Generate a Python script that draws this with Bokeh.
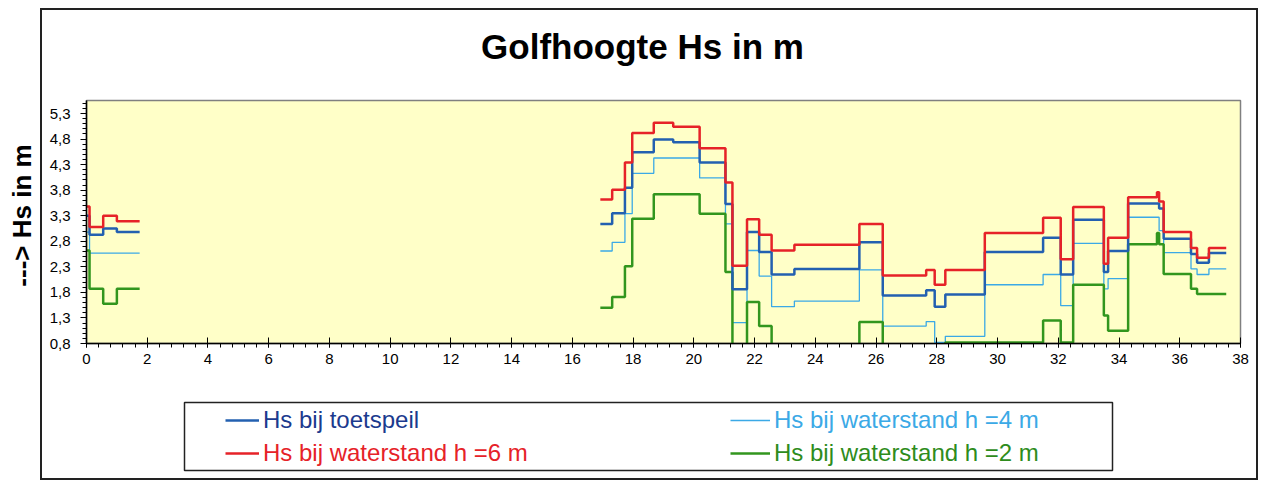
import math
from bokeh.plotting import figure
from bokeh.layouts import row, column
from bokeh.models import FixedTicker, Label, Legend, LegendItem, BoxAnnotation, Range1d
from bokeh.embed import file_html
from bokeh.resources import INLINE

# ---------------- data ----------------
x_ticks = list(range(0, 40, 2))
y_ticks = [0.8, 1.3, 1.8, 2.3, 2.8, 3.3, 3.8, 4.3, 4.8, 5.3]
y_tick_labels = ["0,8", "1,3", "1,8", "2,3", "2,8", "3,3", "3,8", "4,3", "4,8", "5,3"]

series_names = ["Hs bij toetspeil", "Hs bij waterstand h =6 m",
                "Hs bij waterstand h =4 m", "Hs bij waterstand h =2 m"]

# first stretch (step boundaries and level per step)
seg1_x = [0.0, 0.1, 0.55, 1.0, 1.75]
seg1_toetspeil = [3.30, 2.93, 3.05, 2.98]
seg1_h6 = [3.48, 3.08, 3.30, 3.19]
seg1_h4 = [2.98, 2.57, 2.57, 2.57]
seg1_h2 = [2.62, 1.87, 1.58, 1.87]

# second stretch
seg2_x = [16.92, 17.31, 17.73, 17.97, 18.68, 19.32, 20.19, 21.04, 21.27, 21.75,
          22.15, 22.56, 23.31, 25.45, 26.22, 27.65, 27.93, 28.28, 29.58, 31.50,
          32.08, 32.49, 33.50, 33.64, 34.30, 35.25, 35.32, 35.47, 36.37, 36.57,
          36.96, 37.53]
seg2_toetspeil = [3.14, 3.35, 3.85, 4.54, 4.79, 4.74, 4.34, 3.53, 1.86, 2.98,
                  2.59, 2.15, 2.26, 2.78, 1.74, 1.84, 1.52, 1.76, 2.59, 2.87,
                  2.15, 3.22, 2.20, 2.61, 3.54, 3.54, 3.44, 2.85, 2.55, 2.38, 2.57]
seg2_h6 = [3.62, 3.81, 4.34, 4.92, 5.12, 5.04, 4.62, 3.95, 2.32, 3.23,
           2.93, 2.62, 2.73, 3.14, 2.13, 2.24, 1.95, 2.24, 2.96, 3.26,
           2.45, 3.47, 2.36, 2.87, 3.66, 3.76, 3.58, 2.98, 2.67, 2.48, 2.67]
seg2_h4 = [2.61, 2.78, 3.34, 4.13, 4.43, 4.43, 4.04, 3.14, 1.21, 2.62,
           2.12, 1.52, 1.63, 2.24, 1.14, 1.23, 0.82, 0.94, 1.95, 2.15,
           1.54, 2.76, 1.87, 2.07, 3.27, 3.27, 3.01, 2.58, 2.26, 2.15, 2.26]
seg2_h2 = [1.50, 1.71, 2.31, 3.24, 3.72, 3.72, 3.34, 2.20, 0.50, 1.61,
           1.14, 0.50, 0.50, 1.22, 0.50, 0.50, 0.50, 0.82, 0.82, 1.25,
           0.82, 1.95, 1.35, 1.05, 2.74, 2.96, 2.74, 2.16, 1.87, 1.77, 1.77]


def step_path(breaks, levels):
    xs, ys = [], []
    for i, v in enumerate(levels):
        xs += [breaks[i], breaks[i + 1]]
        ys += [v, v]
    return xs, ys


def build(l1, l2):
    x1, y1 = step_path(seg1_x, l1)
    x2, y2 = step_path(seg2_x, l2)
    return x1 + [math.nan] + x2, y1 + [math.nan] + y2


FONT = "Liberation Sans"
C_T, C_6, C_4, C_2 = "#2360B0", "#E62228", "#3BA9E6", "#32961E"
T_T, T_6, T_4, T_2 = "#1B3A8E", "#E62228", "#3BA9E6", "#2E8C1C"
W_T, W_6, W_4, W_2 = 2.5, 2.5, 1.3, 2.5


def blank(width, height, xr=(0, 1), yr=(0, 1)):
    f = figure(width=width, height=height, output_backend="svg", toolbar_location=None,
               x_axis_location=None, y_axis_location=None,
               x_range=Range1d(*xr), y_range=Range1d(*yr), min_border=0)
    f.outline_line_color = None
    f.background_fill_color = "white"
    f.border_fill_color = "white"
    f.grid.visible = False
    return f


# ---------------- y-axis title (outside the chart frame) ----------------
p_lab = blank(40, 481)
p_lab.add_layout(Label(x=21, y=266, x_units="screen", y_units="screen", angle=math.pi / 2,
                       text="---> Hs in m", text_font=FONT, text_font_size="26px",
                       text_font_style="bold", text_align="center", text_baseline="middle",
                       text_color="black"))

# ---------------- title ----------------
p_title = blank(1214, 80)
p_title.add_layout(Label(x=556, y=44, x_units="screen", y_units="screen",
                         text="Golfhoogte Hs in m", text_font=FONT, text_font_size="35px",
                         text_font_style="bold", text_align="center",
                         text_baseline="alphabetic", text_color="black"))

# ---------------- main plot ----------------
p = figure(width=1214, height=302, output_backend="svg", toolbar_location=None,
           x_range=Range1d(0, 38), y_range=Range1d(0.8, 5.555),
           min_border_left=44, min_border_right=16, min_border_top=10, min_border_bottom=49)
p.background_fill_color = "#FFFFC8"
p.border_fill_color = "white"
p.outline_line_color = "#808080"
p.outline_line_width = 1.5
p.xgrid.visible = False
p.ygrid.visible = False

xa, ya = build(seg1_h4, seg2_h4)
r4 = p.line(xa, ya, line_color=C_4, line_width=W_4)
xa, ya = build(seg1_h2, seg2_h2)
r2 = p.line(xa, ya, line_color=C_2, line_width=W_2)
xa, ya = build(seg1_toetspeil, seg2_toetspeil)
rt = p.line(xa, ya, line_color=C_T, line_width=W_T)
xa, ya = build(seg1_h6, seg2_h6)
r6 = p.line(xa, ya, line_color=C_6, line_width=W_6)

p.xaxis.ticker = FixedTicker(ticks=x_ticks, minor_ticks=[k * 0.4 for k in range(0, 96)])
p.yaxis.ticker = FixedTicker(ticks=y_ticks, minor_ticks=[0.8 + k * 0.1 for k in range(0, 48)])
p.yaxis.major_label_overrides = dict(zip(y_ticks, y_tick_labels))
for ax in (p.xaxis[0], p.yaxis[0]):
    ax.axis_line_color = "black"
    ax.axis_line_width = 1.5
    ax.major_tick_line_color = "black"
    ax.minor_tick_line_color = "black"
    ax.major_label_text_font = FONT
    ax.major_label_text_font_size = "15px"
    ax.major_label_text_color = "black"
p.xaxis.major_tick_in = 6
p.xaxis.major_tick_out = 4
p.xaxis.minor_tick_in = 0
p.xaxis.minor_tick_out = 4
p.xaxis.major_label_standoff = 6
p.yaxis.major_tick_in = 0
p.yaxis.major_tick_out = 6
p.yaxis.minor_tick_in = 0
p.yaxis.minor_tick_out = 4
p.yaxis.major_label_standoff = 10

# ---------------- legend ----------------
# (frames of the stacked figures are aligned with the main plot's frame)
p_leg = blank(1214, 86, xr=(0, 1154), yr=(86, 0))
p_leg.add_layout(BoxAnnotation(left=98, right=1026, top=10, bottom=78,
                               fill_alpha=0, line_color="#222222", line_alpha=1,
                               line_width=1.5))
legend_specs = [
    (series_names[0], C_T, W_T, T_T, (139, 44), 34),
    (series_names[1], C_6, W_6, T_6, (139, 11), 34),
    (series_names[2], C_4, W_4, T_4, (644, 44), 40),
    (series_names[3], C_2, W_2, T_2, (644, 11), 40),
]
for name, lc, lw, tcol, loc, gw in legend_specs:
    sample = p_leg.line(x=[math.nan], y=[math.nan], line_color=lc, line_width=lw)
    lg = Legend(items=[LegendItem(label=name, renderers=[sample])], location=loc,
                border_line_alpha=0, background_fill_alpha=0, padding=0, margin=0,
                spacing=0, glyph_width=gw, glyph_height=24, label_height=24,
                label_standoff=4, label_text_font=FONT, label_text_font_size="24px",
                label_text_color=tcol)
    p_leg.add_layout(lg)

chart = column(p_title, p, p_leg, spacing=0,
               styles={"border": "2px solid #222222", "margin-top": "8px"})
layout = row(p_lab, chart, spacing=0)

open("out.html", "w").write(file_html(layout, INLINE))
